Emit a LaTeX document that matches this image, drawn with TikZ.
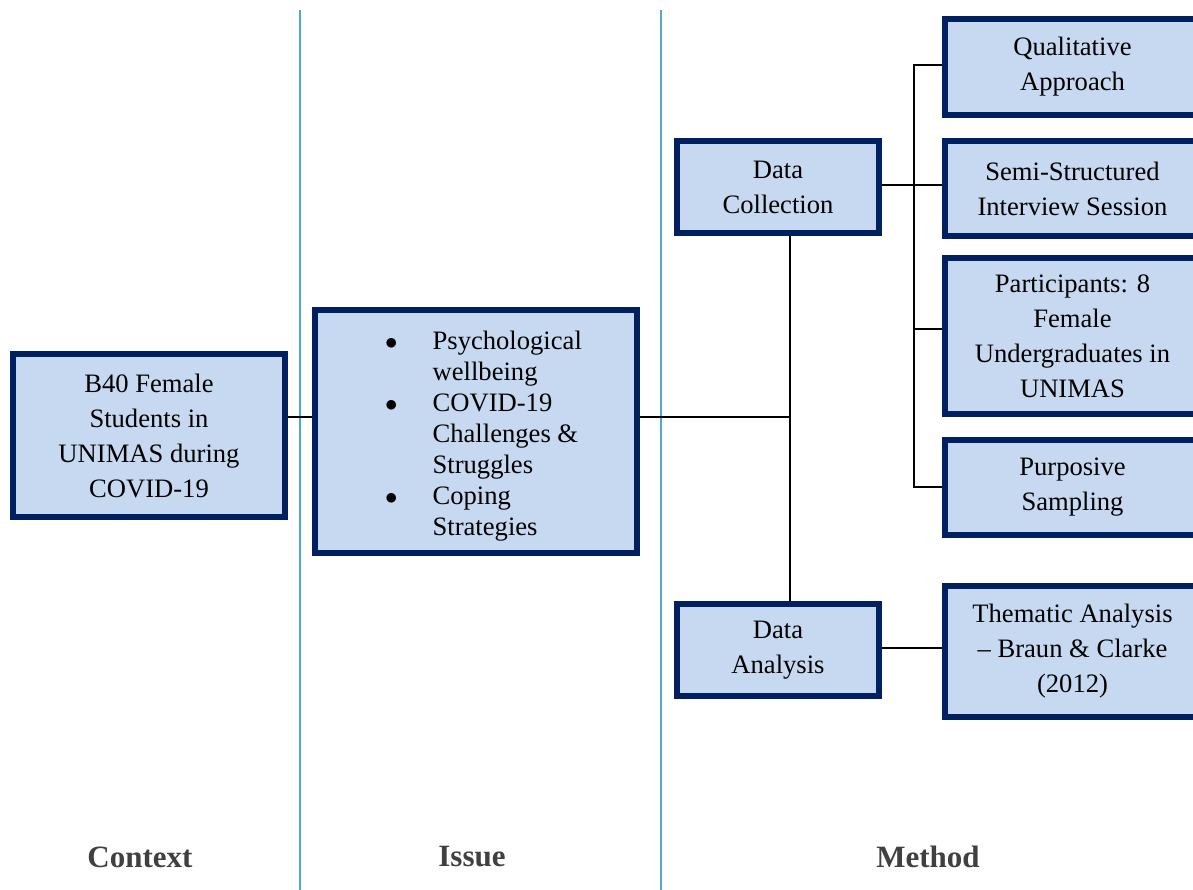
\documentclass[tikz,border=0pt]{standalone}
\usepackage{fontspec}
\setmainfont{Liberation Serif}
\definecolor{navy}{HTML}{002060}
\definecolor{boxfill}{HTML}{C6D9F0}
\definecolor{sepline}{HTML}{4BACC6}
\definecolor{headgray}{HTML}{404040}
\begin{document}
\begin{tikzpicture}[x=1pt,y=-1pt,
  box/.style={draw=navy, fill=boxfill, line width=6pt, align=center,
    font=\fontsize{26.6}{35}\selectfont, inner sep=0pt},
  conn/.style={line width=2pt, black},
  sepl/.style={line width=2pt, sepline},
  head/.style={font=\fontsize{31}{36}\selectfont\bfseries, text=headgray}]
\useasboundingbox (0,0) rectangle (1193,890);
\clip (0,0) rectangle (1193,890);

% separators
\coordinate (s1t) at (300,10); \coordinate (s1b) at (300,890);
\coordinate (s2t) at (661,10); \coordinate (s2b) at (661,890);
\draw[sepl] (s1t) -- (s1b);
\draw[sepl] (s2t) -- (s2b);

% boxes
\node[box, minimum width=272pt, minimum height=163pt] (b40) at (149,435.5)
  {B40 Female\\Students in\\UNIMAS during\\COVID-19};
\node[box, minimum width=322pt, minimum height=243pt] (issue) at (476,431.5) {};
\node[anchor=west, inner sep=0pt, font=\fontsize{26.6}{31}\selectfont] (issuetext) at (385,436)
  {\begin{tabular}{@{}c@{\hspace{35pt}}l@{}}
   $\bullet$ & Psychological\\
             & wellbeing\\
   $\bullet$ & COVID-19\\
             & Challenges \&\\
             & Struggles\\
   $\bullet$ & Coping\\
             & Strategies
   \end{tabular}};
\node[box, minimum width=202pt, minimum height=92pt] (dc) at (778,187) {Data\\Collection};
\node[box, minimum width=202pt, minimum height=92pt] (da) at (778,650) {Data\\Analysis};
\node[box, minimum width=255pt, minimum height=96pt] (qa) at (1072.5,67) {Qualitative\\Approach};
\node[box, minimum width=255pt, minimum height=95pt] (ss) at (1072.5,188.5) {Semi-Structured\\Interview Session};
\node[box, minimum width=255pt, minimum height=156pt] (pa) at (1072.5,336) {Participants: 8\\Female\\Undergraduates in\\UNIMAS};
\node[box, minimum width=255pt, minimum height=95pt] (ps) at (1072.5,487.5) {Purposive\\Sampling};
\node[box, minimum width=255pt, minimum height=131pt] (ta) at (1072.5,651) {Thematic Analysis\\– Braun \& Clarke\\(2012)};

% junctions
\coordinate (j1) at (790,417);
\coordinate (bx) at (914,65);
\coordinate (bb) at (914,487);
\coordinate (bp) at (914,329);
\coordinate (jc) at (880,185);
\coordinate (ja) at (880,648);

% connectors
\draw[conn] (b40.east |- j1) -- (issue.west |- j1);
\draw[conn] (issue.east |- j1) -- (j1);
\draw[conn] (dc.south -| j1) -- (da.north -| j1);
\draw[conn] (dc.east |- jc) -- (ss.west |- jc);
\draw[conn] (qa.west |- bx) -- (bx) -- (bb) -- (ps.west |- bb);
\draw[conn] (bp) -- (pa.west |- bp);
\draw[conn] (da.east |- ja) -- (ta.west |- ja);

% headings
\node[head] (hc) at (140,857) {Context};
\node[head] (hi) at (472,857) {Issue};
\node[head] (hm) at (928,857) {Method};
\end{tikzpicture}
\end{document}
